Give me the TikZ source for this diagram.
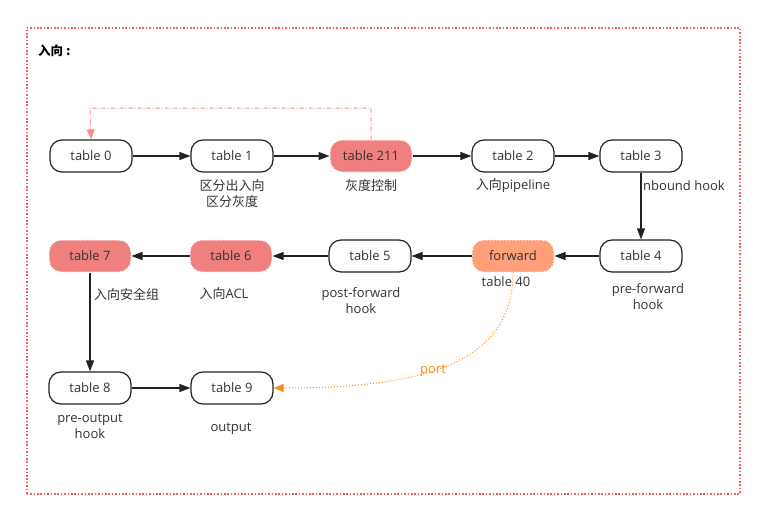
\documentclass[tikz,border=0pt]{standalone}
\usepackage{fontspec}
\setmainfont{Open Sans}
\newfontfamily\cjk{Noto Sans CJK SC}
\usetikzlibrary{arrows.meta}
\definecolor{txt}{HTML}{333333}
\definecolor{edge}{HTML}{222222}
\definecolor{coral}{HTML}{F08080}
\definecolor{salmon}{HTML}{FFA07A}
\definecolor{framered}{HTML}{F06060}
\definecolor{backred}{HTML}{FF8A8A}
\definecolor{portor}{HTML}{FF8C1A}
\tikzset{
  tbl/.style={draw=edge, line width=1.2pt, rounded corners=12pt, minimum width=82pt, minimum height=32pt, inner sep=0pt, font=\fontsize{13}{15}\selectfont, text=txt, fill=white},
  hot/.style={tbl, draw=white, fill=coral, dash pattern=on 1.5pt off 1pt, line width=1pt},
  warm/.style={tbl, draw=white, fill=salmon, dotted, line width=1pt},
  lbl/.style={font=\fontsize{13}{16}\selectfont, text=txt, align=center, inner sep=0pt},
  flow/.style={draw=edge, line width=1.2pt, -{Triangle[length=11pt,width=8pt]}},
}
\begin{document}
\begin{tikzpicture}[x=1pt,y=-1pt]
\useasboundingbox (0,0) rectangle (774,530);
\node[draw=framered, dash pattern=on 1.6pt off 1.8pt, line width=1.6pt, minimum width=713pt, minimum height=466pt, anchor=north west, inner sep=0pt] (frame) at (26,27) {};
\node[lbl, anchor=west, font=\cjk\bfseries\fontsize{12.5}{14}\selectfont, text=black] (title) at (38,51) {入向\hspace{3pt}:};

\node[tbl] (t0) at (91,156) {table 0};
\node[tbl] (t1) at (232,156) {table 1};
\node[hot] (t211) at (371,156) {table 211};
\node[tbl] (t2) at (513,156) {table 2};
\node[tbl] (t3) at (641,156) {table 3};
\node[tbl] (t4) at (641,256) {table 4};
\node[warm] (fw) at (513,256) {forward};
\node[tbl] (t5) at (370,256) {table 5};
\node[hot] (t6) at (231,256) {table 6};
\node[hot] (t7) at (90,256) {table 7};
\node[tbl] (t8) at (90,388) {table 8};
\node[tbl] (t9) at (232,388) {table 9};

\node[lbl, font=\cjk\fontsize{13}{16}\selectfont] (l1) at (232,194) {区分出入向\\区分灰度};
\node[lbl, font=\cjk\fontsize{13}{16}\selectfont] (l211) at (371,186) {灰度控制};
\node[lbl] (l2) at (513,186) {{\cjk 入向}pipeline};
\node[lbl, anchor=west] (l3) at (643,186) {nbound hook};
\node[lbl] (l4) at (648,297) {pre-forward\\hook};
\node[lbl] (l40) at (506,282) {table 40};
\node[lbl] (l5) at (361,301) {post-forward\\hook};
\node[lbl] (l6) at (224,294) {{\cjk 入向}ACL};
\node[lbl, anchor=west, font=\cjk\fontsize{13}{16}\selectfont] (l7) at (94,294) {入向安全组};
\node[lbl] (l8) at (90,426) {pre-output\\hook};
\node[lbl] (l9) at (231,429) {output};

\draw[flow] (t0) -- (t1);
\draw[flow] (t1) -- (t211);
\draw[flow] (t211) -- (t2);
\draw[flow] (t2) -- (t3);
\draw[flow] (t3) -- (t4);
\draw[flow] (t4) -- (fw);
\draw[flow] (fw) -- (t5);
\draw[flow] (t5) -- (t6);
\draw[flow] (t6) -- (t7);
\draw[flow] (t7) -- (t8);
\draw[flow] (t8) -- (t9);

\coordinate (bk1) at (371,108);
\coordinate (bk2) at (90,108);
\draw[backred, line width=1pt, dash pattern=on 4pt off 2pt on 1pt off 2pt, -{Triangle[length=10pt,width=8pt]}] (t211.north) -- (bk1) -- (bk2) -- (t0.north);

\draw[portor, line width=1pt, dotted, -{Triangle[length=10pt,width=8pt]}] (fw.south) .. controls (513,365) and (420,388) .. (t9.east);
\node[font=\fontsize{13}{15}\selectfont, text=portor, inner sep=0pt] (portl) at (433,371) {port};
\end{tikzpicture}
\end{document}
